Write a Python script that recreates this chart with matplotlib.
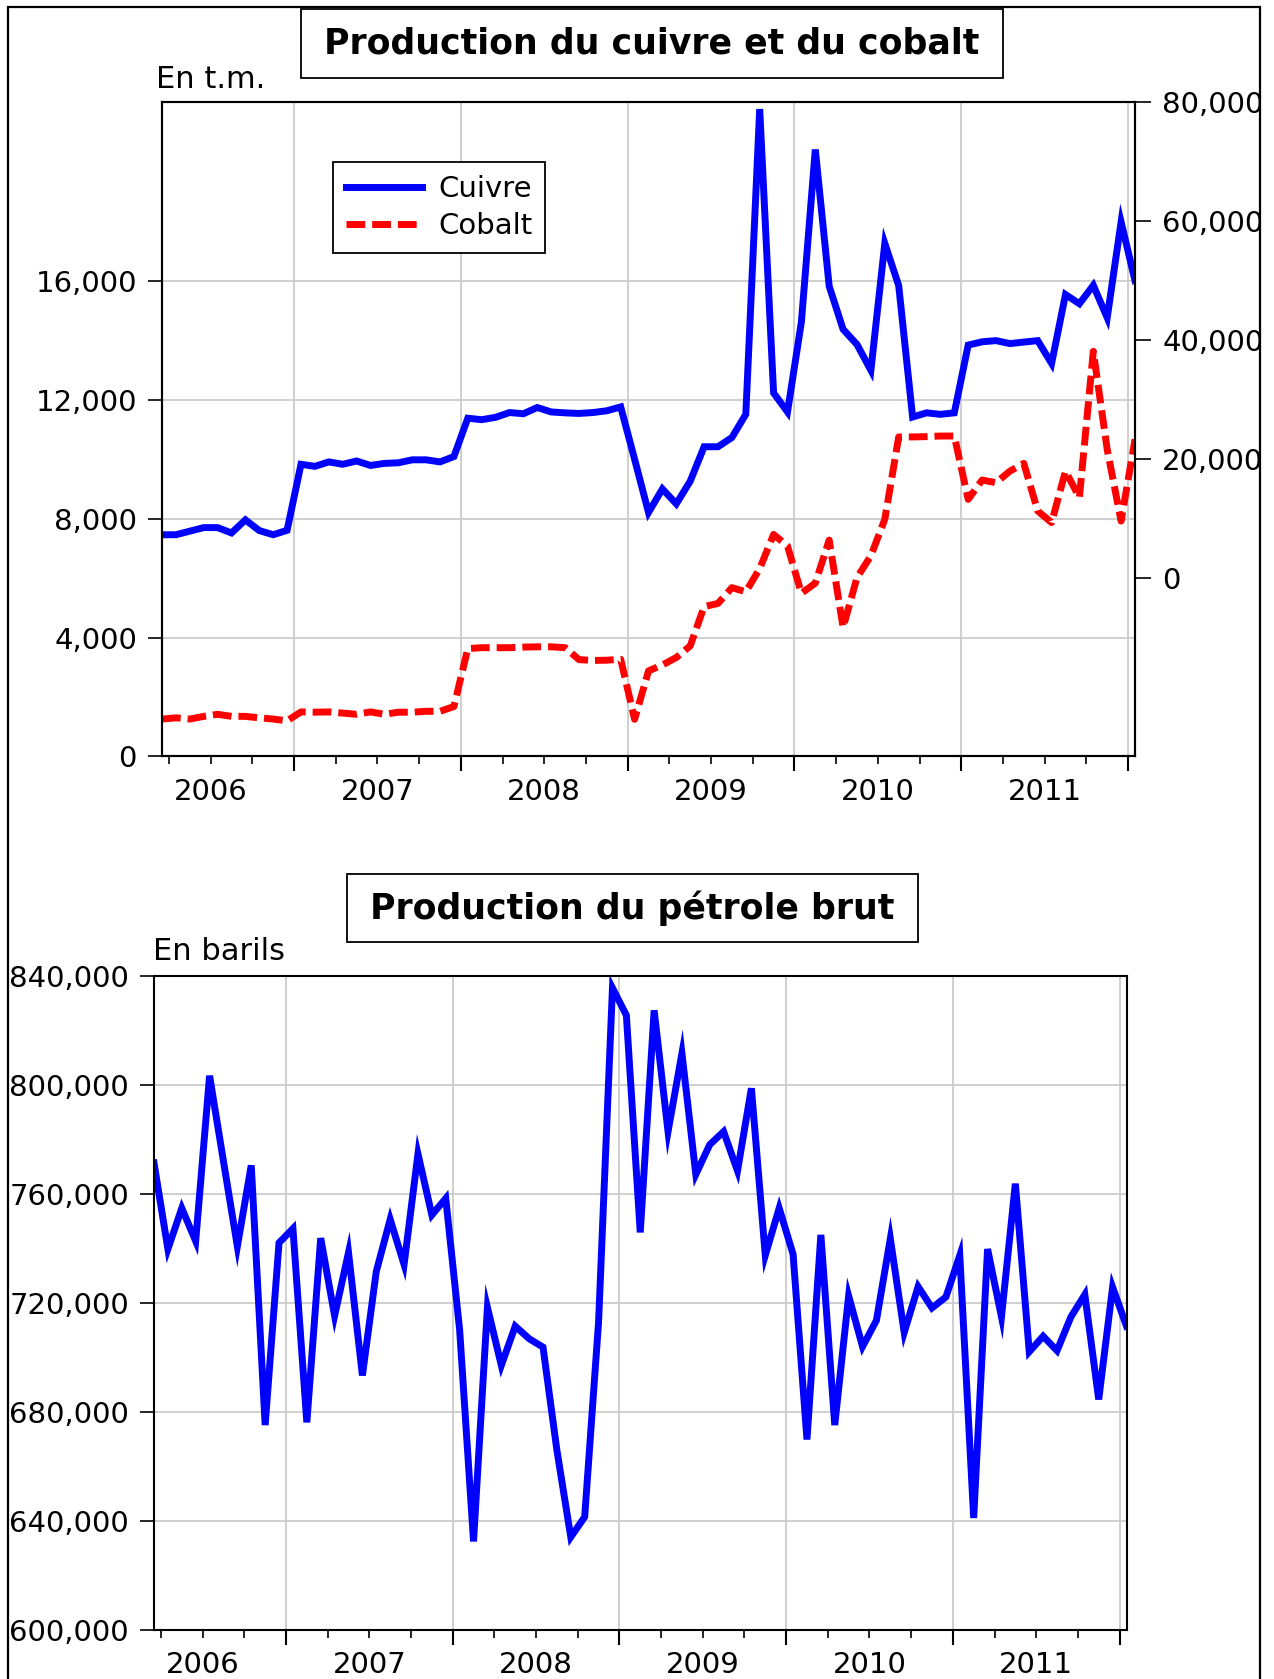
import numpy as np
import matplotlib
matplotlib.use("Agg")
import matplotlib.pyplot as plt
from matplotlib.patches import Rectangle
from matplotlib.lines import Line2D
from matplotlib.ticker import FuncFormatter
import matplotlib.transforms as mtransforms

plt.rcParams['font.family'] = ['DejaVu Sans']

# ---------------- data (monthly, March 2006 - January 2012) ----------------
first_month = 3          # March 2006
first_year = 2006
years = [2006, 2007, 2008, 2009, 2010, 2011]

cuivre = [7300, 7300, 7900, 8500, 8500, 7600, 9800, 8000, 7300, 8050,
          19150, 18800, 19550, 19150, 19700, 18950, 19300, 19400, 19900, 19900,
          19550, 20450, 26900, 26650, 27050, 27850, 27650, 28700, 27950, 27800,
          27700, 27850, 28150, 28800, 20000, 11050, 15000, 12500, 16300, 22100,
          22100, 23650, 27550, 78900, 31150, 27950, 43100, 72100, 49100, 41850,
          39300, 34950, 56300, 49200, 27100, 27800, 27550, 27800, 39200, 39750,
          39950, 39450, 39700, 39950, 36100, 47700, 46150, 49250, 43800, 59900,
          50050]

cobalt = [1260, 1300, 1260, 1350, 1420, 1350, 1350, 1300, 1260, 1200,
          1500, 1490, 1500, 1460, 1420, 1500, 1420, 1490, 1490, 1520,
          1520, 1680, 3630, 3660, 3660, 3660, 3680, 3690, 3690, 3660,
          3260, 3230, 3240, 3270, 1250, 2880, 3080, 3330, 3720, 5040,
          5150, 5680, 5540, 6320, 7470, 7080, 5490, 5830, 7280, 4340,
          6020, 6750, 7980, 10750, 10750, 10760, 10780, 10780, 8650, 9300,
          9210, 9600, 9860, 8260, 7870, 9600, 8710, 13630, 10330, 7920,
          10670]

petrole = [771400, 739800, 754800, 742700, 803400, 772000, 740800, 770500, 675200, 742100,
           747300, 676200, 743800, 715300, 738500, 693400, 731600, 750700, 734100, 774700,
           752300, 758400, 710100, 632500, 718400, 697100, 711500, 706900, 703800, 666000,
           634100, 641500, 713000, 835600, 825600, 745900, 827400, 782900, 811600, 767200,
           778100, 782900, 768500, 798800, 737500, 754800, 737900, 669900, 745000, 675200,
           722600, 704000, 713600, 743600, 709200, 726000, 718200, 722200, 737500, 641100,
           739800, 714900, 763800, 702100, 707800, 702500, 714900, 723100, 684600, 725800,
           711500]

left_ticks = [0, 4000, 8000, 12000, 16000]
right_ticks = [0, 20000, 40000, 60000, 80000]
oil_ticks = [600000, 640000, 680000, 720000, 760000, 800000, 840000]

titre1 = "Production du cuivre et du cobalt"
titre2 = "Production du pétrole brut"
unite1 = "En t.m."
unite2 = "En barils"

# ---------------- layout helpers ----------------
W, H = 1274, 1679
fig = plt.figure(figsize=(W / 100, H / 100), dpi=100)
fig.patch.set_facecolor('white')


def fx(px):
    return px / W


def fy(py):
    return 1 - py / H


n = len(cuivre)
x = np.arange(n)
# observation at mid-month; boundary Jan 1 of year y:
all_bounds = [(y - first_year) * 12 - (first_month - 1) - 0.5 for y in years + [years[-1] + 1]]
year_centers = [b + 6 for b in all_bounds[:-1]]
year_bounds = [b for b in all_bounds if 0 <= b <= n - 1]
quarters = np.arange(0.5, n - 1, 3.0)
minor_q = [q for q in quarters if q not in year_bounds]

fmt = FuncFormatter(lambda v, p: f"{int(round(v)):,}")
GRID = '#cccccc'
BLUE = '#0000ff'
RED = '#ff0000'
LW = 5.0
FS = 21


def style_x(ax):
    ax.set_xticks(year_bounds)
    ax.set_xticks(minor_q, minor=True)
    ax.set_xlim(0, n - 1)
    ax.tick_params(axis='x', which='major', direction='out', length=10.5, width=1.5,
                   labelbottom=False)
    ax.tick_params(axis='x', which='minor', direction='out', length=6, width=1.2)
    ax.grid(True, axis='x', which='major', color=GRID, lw=1.3)
    ax.grid(True, axis='y', which='major', color=GRID, lw=1.3)
    ax.set_axisbelow(True)
    tr = mtransforms.blended_transform_factory(ax.transData, ax.transAxes)
    for yv, xc in zip(years, year_centers):
        ax.text(xc, -0.054, str(yv), transform=tr, ha='center', va='center',
                fontsize=FS, clip_on=False)
    for s in ax.spines.values():
        s.set_linewidth(1.5)


# ---------------- top chart ----------------
ax = fig.add_axes([fx(162), fy(756.5), 973 / W, 654 / H])
ax2 = ax.twinx()
style_x(ax)
ax.set_yticks(left_ticks)
ax.set_ylim(0, 22000)
ax.yaxis.set_major_formatter(fmt)
ax.tick_params(axis='y', direction='out', length=10, width=1.2, labelsize=FS, pad=8)

l_cob, = ax.plot(x, cobalt, color=RED, lw=LW, linestyle=(0, (2.7, 1.0)),
                 dash_capstyle='butt', solid_joinstyle='miter')
ax2.set_yticks(right_ticks)
ax2.set_ylim(-30000, 80000)
ax2.yaxis.set_major_formatter(fmt)
ax2.tick_params(axis='y', direction='out', length=11.5, width=1.2, labelsize=FS, pad=8)
for s in ax2.spines.values():
    s.set_linewidth(1.5)
l_cui, = ax2.plot(x, cuivre, color=BLUE, lw=LW, solid_joinstyle='miter')
ax.set_xlim(0, n - 1)

leg = ax2.legend([l_cui, l_cob], ["Cuivre", "Cobalt"], loc='upper left',
                 bbox_to_anchor=(0.1757, 0.909), borderaxespad=0, frameon=True,
                 fancybox=False, edgecolor='black', framealpha=1, fontsize=21,
                 handlelength=2.6, borderpad=0.45, labelspacing=0.3, handletextpad=0.55)
leg.get_frame().set_linewidth(1.3)

# ---------------- bottom chart ----------------
axb = fig.add_axes([fx(154), fy(1630), 972.5 / W, 654 / H])
style_x(axb)
axb.set_yticks(oil_ticks)
axb.set_ylim(600000, 840000)
axb.yaxis.set_major_formatter(fmt)
axb.tick_params(axis='y', direction='out', length=10, width=1.2, labelsize=FS, pad=8)
axb.plot(x, petrole, color=BLUE, lw=LW, solid_joinstyle='miter')
axb.set_xlim(0, n - 1)

# ---------------- titles, units, frames ----------------
for (x0, y0, x1, y1, txt) in [(301, 9.3, 1003, 78, titre1), (347, 874, 917.5, 942.5, titre2)]:
    fig.add_artist(Rectangle((fx(x0), fy(y1)), fx(x1) - fx(x0), fy(y0) - fy(y1),
                             transform=fig.transFigure, facecolor='white',
                             edgecolor='black', lw=1.3, zorder=5))
    fig.text(fx((x0 + x1) / 2), fy((y0 + y1) / 2), txt, ha='center', va='center',
             fontsize=25, fontweight='bold', zorder=6)

fig.text(fx(156), fy(79), unite1, ha='left', va='center', fontsize=22)
fig.text(fx(153), fy(951), unite2, ha='left', va='center', fontsize=22)

# clip area right of outer border, then the border itself
fig.add_artist(Rectangle((fx(1260), 0), 1 - fx(1260), 1, transform=fig.transFigure,
                         facecolor='white', edgecolor='none', zorder=20))
fig.add_artist(Rectangle((fx(8), fy(1700)), fx(1259.5) - fx(8), fy(7) - fy(1700),
                         transform=fig.transFigure, facecolor='none',
                         edgecolor='black', lw=1.6, zorder=21, clip_on=False))

fig.savefig("out.png", dpi=100)
